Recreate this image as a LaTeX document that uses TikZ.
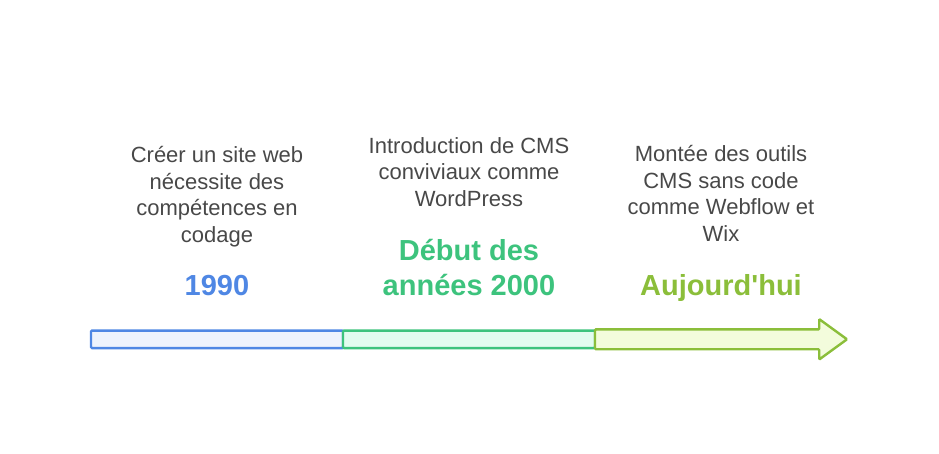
\documentclass[tikz,border=0pt]{standalone}
\usepackage{fontspec}
\setmainfont{Liberation Sans}
\usepackage{xcolor}
\usetikzlibrary{positioning, shapes.arrows}

\definecolor{txtgray}{HTML}{484848}
\definecolor{bluedraw}{HTML}{4F87E4}
\definecolor{bluefill}{HTML}{EEF3FD}
\definecolor{greendraw}{HTML}{3DC37D}
\definecolor{greenfill}{HTML}{E2FCEF}
\definecolor{limedraw}{HTML}{8BBE3A}
\definecolor{limefill}{HTML}{F3FCDC}

\begin{document}
\begin{tikzpicture}[x=1pt, y=1pt]
\tikzstyle{seg}=[draw, line width=2.4pt, minimum width=252pt, minimum height=17.5pt, inner sep=0pt, outer sep=0pt, rounded corners=1pt]
\tikzstyle{year}=[anchor=south, align=center, inner sep=0pt, text depth=0pt, font=\fontsize{29}{35}\selectfont\bfseries]
\tikzstyle{desc}=[align=center, inner sep=0pt, text depth=0pt, text=txtgray, font=\fontsize{22}{26.5}\selectfont]
\useasboundingbox (0,0) rectangle (939,453);

% timeline bar
\node[seg, draw=bluedraw, fill=bluefill] (s1) at (217,113.7) {};
\node[seg, draw=greendraw, fill=greenfill, anchor=west] (s2) at (s1.east) {};
\node[single arrow, draw=limedraw, fill=limefill, line width=2.4pt, anchor=tail, outer sep=0pt,
      minimum height=252pt, inner xsep=0pt, inner ysep=8.75pt, text height=0pt, text depth=0pt,
      single arrow head extend=10.25pt, single arrow tip angle=72, rounded corners=1pt] (s3) at (s2.east) {};

% years
\node[year, text=bluedraw] (y1) at (217,157) {1990};
\node[year, text=greendraw] (y2) at (469,157) {Début des\\années 2000};
\node[year, text=limedraw] (y3) at (721,157) {Aujourd\textquotesingle hui};

% descriptions
\node[desc, above=33pt of y1] (d1) {Créer un site web\\nécessite des\\compétences en\\codage};
\node[desc, above=33pt of y2] (d2) {Introduction de CMS\\conviviaux comme\\WordPress};
\node[desc, above=33pt of y3] (d3) {Montée des outils\\CMS sans code\\comme Webflow et\\Wix};

\end{tikzpicture}
\end{document}
